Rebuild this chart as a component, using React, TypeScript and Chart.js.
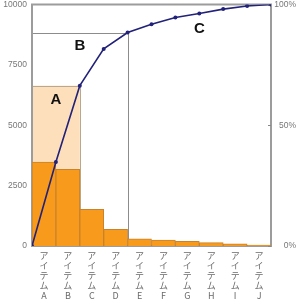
import React, { useEffect, useRef } from 'react';
import { Chart, registerables } from 'chart.js';

Chart.register(...registerables);

// ---- data ----
const itemLetters = ['A', 'B', 'C', 'D', 'E', 'F', 'G', 'H', 'I', 'J'];
const itemPrefix = ['ア', 'イ', 'テ', 'ム'];
const counts = [3480, 3170, 1520, 690, 300, 240, 195, 140, 95, 35];
const cumulativePct = [0, 34.8, 66.4, 81.6, 88.4, 91.8, 94.6, 96.3, 98.1, 99.4, 100];
const leftTicks = [0, 2500, 5000, 7500, 10000];
const rightTicks = [0, 50, 100];
const zoneNames = ['A', 'B', 'C'];
const zoneEnds = [2, 4, 10];
const zoneLabelPct = [60.6, 82.8, 89.9];

const TICK_FONT = "'Liberation Sans', Arial, sans-serif";
const JP_FONT = "'Noto Sans CJK JP', 'Liberation Sans', sans-serif";

const zonesPlugin = {
  id: 'zones',
  beforeDatasetsDraw(chart: any) {
    const { ctx, chartArea } = chart;
    const x2 = chart.scales.x2;
    const y2 = chart.scales.y2;
    ctx.save();
    const aRight = x2.getPixelForValue(zoneEnds[0]);
    const aTop = y2.getPixelForValue(cumulativePct[zoneEnds[0]]);
    ctx.fillStyle = '#fde0bb';
    ctx.fillRect(chartArea.left, aTop, aRight - chartArea.left, chartArea.bottom - aTop);
    ctx.lineWidth = 1;
    for (let i = 0; i < 2; i++) {
      const r = x2.getPixelForValue(zoneEnds[i]);
      const t = y2.getPixelForValue(cumulativePct[zoneEnds[i]]);
      ctx.strokeStyle = i === 0 ? '#b9a88f' : '#8c8c8c';
      ctx.beginPath();
      ctx.moveTo(chartArea.left, Math.round(t) + 0.5);
      ctx.lineTo(Math.round(r) + 0.5, Math.round(t) + 0.5);
      ctx.lineTo(Math.round(r) + 0.5, chartArea.bottom);
      ctx.stroke();
    }
    ctx.strokeStyle = '#9c9c9c';
    ctx.lineWidth = 2;
    ctx.strokeRect(chartArea.left, chartArea.top, chartArea.right - chartArea.left, chartArea.bottom - chartArea.top);
    ctx.lineWidth = 1;
    ctx.strokeStyle = '#888';
    rightTicks.forEach((v) => {
      const y = Math.round(y2.getPixelForValue(v)) + 0.5;
      ctx.beginPath();
      ctx.moveTo(chartArea.right - 3, y);
      ctx.lineTo(chartArea.right, y);
      ctx.stroke();
    });
    ctx.restore();
  },
  afterDatasetsDraw(chart: any) {
    const { ctx } = chart;
    const x2 = chart.scales.x2;
    const y2 = chart.scales.y2;
    ctx.save();
    ctx.fillStyle = '#111';
    ctx.font = "bold 15px 'Liberation Sans', Arial, sans-serif";
    ctx.textAlign = 'center';
    ctx.textBaseline = 'middle';
    zoneNames.forEach((n, i) => {
      const start = i === 2 ? zoneEnds[1] : 0;
      const cx = x2.getPixelForValue((start + zoneEnds[i]) / 2);
      const cy = y2.getPixelForValue(zoneLabelPct[i]);
      ctx.fillText(n, cx, cy);
    });
    ctx.restore();
  },
};

const fixVertical = (w: number) => (s: any) => {
  s.width = w;
  s.paddingTop = 4.5;
  s.paddingBottom = 0;
};

export default function App() {
  const ref = useRef<HTMLCanvasElement>(null);
  useEffect(() => {
    if (!ref.current) return;
    const labels = itemLetters.map((l) => [...itemPrefix, l]);
    const chart = new Chart(ref.current, {
      type: 'bar',
      data: {
        labels,
        datasets: [
          {
            type: 'line',
            data: cumulativePct.map((v, i) => ({ x: i, y: v })),
            xAxisID: 'x2',
            yAxisID: 'y2',
            borderColor: '#22227a',
            backgroundColor: '#22227a',
            borderWidth: 1.6,
            pointRadius: 2,
            pointBorderWidth: 0,
            tension: 0,
          } as any,
          {
            type: 'bar',
            data: counts,
            xAxisID: 'x',
            yAxisID: 'y',
            backgroundColor: '#f89a1c',
            borderColor: '#c9832c',
            borderWidth: 1,
            barPercentage: 1,
            categoryPercentage: 1,
            grouped: false,
          } as any,
        ],
      },
      options: {
        responsive: false,
        animation: false,
        devicePixelRatio: 1,
        layout: { padding: { top: 0, right: 2, left: 0, bottom: 0 } },
        plugins: { legend: { display: false }, tooltip: { enabled: false } },
        scales: {
          x: {
            type: 'category',
            offset: true,
            grid: { display: false, drawTicks: false },
            border: { display: false },
            afterFit: (s: any) => {
              s.height = 54;
              s.paddingLeft = 0;
              s.paddingRight = 0;
            },
            ticks: {
              autoSkip: false,
              maxRotation: 0,
              minRotation: 0,
              padding: 5,
              color: '#6a6a6a',
              font: { family: JP_FONT, size: 9, lineHeight: 1.111 },
            },
          },
          x2: {
            type: 'linear',
            display: false,
            offset: false,
            min: 0,
            max: 10,
          },
          y: {
            position: 'left',
            min: 0,
            max: 10000,
            grid: { display: false, drawTicks: false },
            border: { display: false },
            afterBuildTicks: (s: any) => {
              s.ticks = leftTicks.map((v) => ({ value: v }));
            },
            afterFit: fixVertical(32),
            ticks: {
              padding: 5,
              color: '#777',
              font: { family: TICK_FONT, size: 8.5 },
              callback: (v: any) => String(v),
            },
          },
          y2: {
            position: 'right',
            min: 0,
            max: 100,
            grid: { display: false, drawTicks: false },
            border: { display: false },
            afterBuildTicks: (s: any) => {
              s.ticks = rightTicks.map((v) => ({ value: v }));
            },
            afterFit: fixVertical(25),
            ticks: {
              padding: 4,
              crossAlign: 'far',
              color: '#777',
              font: { family: TICK_FONT, size: 8.5 },
              callback: (v: any) => v + '%',
            },
          },
        },
      },
      plugins: [zonesPlugin],
    });
    return () => chart.destroy();
  }, []);
  return (
    <div style={{ position: 'absolute', left: 0, top: 0, width: 298, height: 300, background: '#fff' }}>
      <canvas ref={ref} width={298} height={300} style={{ display: 'block' }} />
    </div>
  );
}
